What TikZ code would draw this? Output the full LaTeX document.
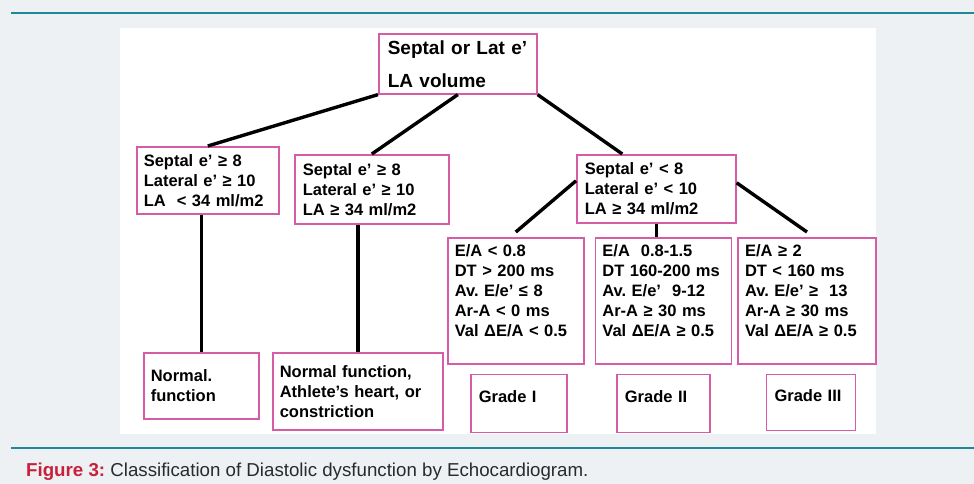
\documentclass[tikz,border=0pt]{standalone}
\usepackage{fontspec}
\setmainfont{Liberation Sans}
\usepackage{tikz}
\usetikzlibrary{calc,positioning}
\definecolor{boxpink}{HTML}{D65CA6}
\definecolor{pagebg}{HTML}{EEF1F4}
\definecolor{rulecol}{HTML}{1F8796}
\definecolor{capred}{HTML}{C8203A}
\definecolor{captext}{HTML}{2A2A2A}
\frenchspacing
\tikzset{
  link/.style={line width=3.4pt, black},
  box/.style={draw=boxpink, line width=1.6pt, fill=white, align=left, anchor=north west,
    inner xsep=8pt, inner ysep=0pt, font=\bfseries\fontsize{16.5}{20}\selectfont},
  rootbox/.style={box, inner xsep=9pt, font=\bfseries\fontsize{19}{33}\selectfont},
  critbox/.style={box, inner xsep=7pt, text width=122pt, minimum height=126pt},
  gradebox/.style={box, minimum height=58pt}
}
\begin{document}
\begin{tikzpicture}[x=1pt, y=-1pt]
  \useasboundingbox (0,0) rectangle (974,484);
  \fill[pagebg] (0,0) rectangle (974,484);
  \fill[white] (120,28) rectangle (876,434);
  \draw[rulecol, line width=1.5pt] (11,13) -- (974,13);
  \draw[rulecol, line width=1.5pt] (11,448) -- (974,448);

  \node[rootbox, text width=140pt, minimum height=60pt] (root) at (378,33) {Septal or Lat e’\\LA volume};
  \node[box, inner xsep=7pt, text width=128pt, minimum height=67pt] (normcrit) at (136,146)
    {Septal e’ ≥ 8\\Lateral e’ ≥ 10\\LA~ < 34 ml/m2};
  \node[box, text width=138pt, minimum height=69pt] (athcrit) at (294,154)
    {Septal e’ ≥ 8\\Lateral e’ ≥ 10\\LA ≥ 34 ml/m2};
  \node[box, text width=143pt, minimum height=68pt] (dyscrit) at (576,154)
    {Septal e’ < 8\\Lateral e’ < 10\\LA ≥ 34 ml/m2};

  % grading criteria
  \node[critbox] (gonecrit) at (447,237)
    {E/A < 0.8\\DT > 200 ms\\Av. E/e’ ≤ 8\\Ar-A < 0 ms\\Val ΔE/A < 0.5\\~};
  \node[critbox, right=10pt of gonecrit] (gtwocrit)
    {E/A~ 0.8-1.5\\DT 160-200 ms\\Av. E/e’~ 9-12\\Ar-A ≥ 30 ms\\Val ΔE/A ≥ 0.5\\~};
  \node[critbox, text width=124pt, right=5pt of gtwocrit] (gthreecrit)
    {E/A ≥ 2\\DT < 160 ms\\Av. E/e’ ≥~ 13\\Ar-A ≥ 30 ms\\Val ΔE/A ≥ 0.5\\~};

  \node[box, inner xsep=7pt, text width=101pt, minimum height=66pt] (normal) at (143,352)
    {Normal.\\function};
  \node[box, inner xsep=7pt, text width=156pt, minimum height=77pt] (athlete) at (272,352)
    {Normal function,\\Athlete’s heart, or\\constriction};
  \node[gradebox, text width=80pt, below=9pt of gonecrit, xshift=3pt] (gone) {Grade I\\[-6pt]~};
  \node[gradebox, text width=77pt, below=9pt of gtwocrit] (gtwo) {Grade II\\[-6pt]~};
  \node[gradebox, text width=73pt, minimum height=56pt, below=9pt of gthreecrit, xshift=4pt] (gthree) {Grade III\\[-6pt]~};

  \draw[link] (root.south west) -- (normcrit.north);
  \draw[link] (root.south) -- (athcrit.north);
  \draw[link] (root.south east) -- ([xshift=-34pt]dyscrit.north);
  \draw[link] ([yshift=8pt]dyscrit.west) -- ([yshift=5pt]gonecrit.north);
  \draw[link] (dyscrit.south) -- (dyscrit.south |- gtwocrit.north);
  \draw[link] ([yshift=6pt]dyscrit.east) -- ([yshift=5pt]gthreecrit.north);
  \draw[link] (normal.north |- normcrit.south) -- (normal.north);
  \draw[link] (athlete.north |- athcrit.south) -- (athlete.north);

  \node[anchor=west, inner sep=0pt, text=captext, font=\fontsize{18.7}{20}\selectfont] (caption) at (26,472)
    {\textcolor{capred}{\bfseries Figure 3:} Classification of Diastolic dysfunction by Echocardiogram.};
\end{tikzpicture}
\end{document}
